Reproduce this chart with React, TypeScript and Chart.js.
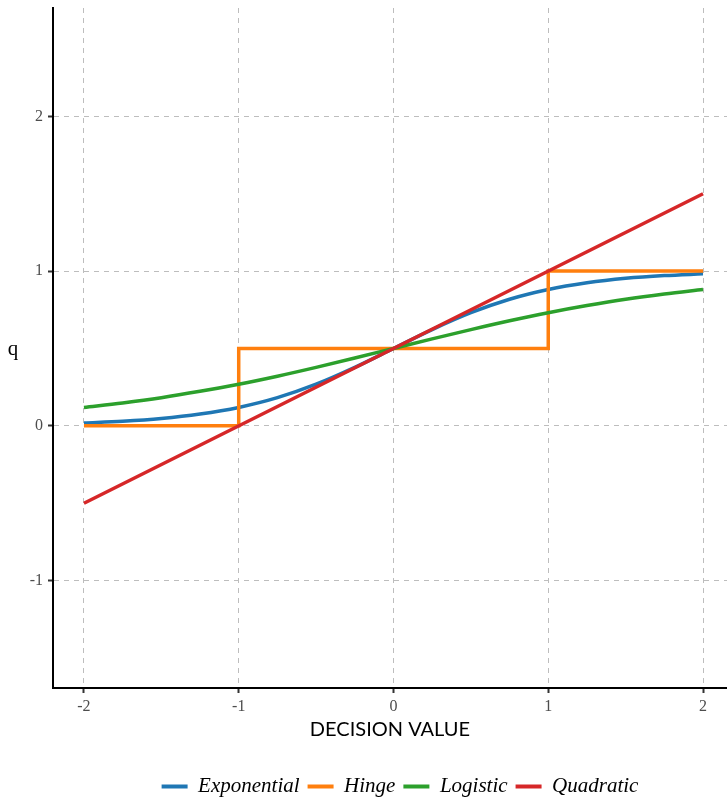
import React, { useEffect, useRef } from "react";
import { Chart, registerables } from "chart.js";

Chart.register(...registerables);

// ---- data ----
const xValues = [-2, -1.75, -1.5, -1.25, -1, -0.75, -0.5, -0.25, 0, 0.25, 0.5, 0.75, 1, 1.25, 1.5, 1.75, 2];
const exponential = [0.018, 0.029, 0.047, 0.076, 0.119, 0.182, 0.269, 0.378, 0.5, 0.622, 0.731, 0.818, 0.881, 0.924, 0.953, 0.971, 0.982];
const logistic = [0.119, 0.148, 0.182, 0.223, 0.269, 0.321, 0.378, 0.438, 0.5, 0.562, 0.622, 0.679, 0.731, 0.777, 0.818, 0.852, 0.881];
const hingeX = [-2, -1, -1, 1, 1, 2];
const hingeY = [0, 0, 0.5, 0.5, 1, 1];
const quadraticX = [-2, 0, 2];
const quadraticY = [-0.5, 0.5, 1.5];

const seriesNames = ["Exponential", "Hinge", "Logistic", "Quadratic"];
const seriesColors = ["#1f77b4", "#ff7f0e", "#2ca02c", "#d62728"];
const xTicks = [-2, -1, 0, 1, 2];
const yTicks = [-1, 0, 1, 2];
const xTitle = "DECISION VALUE";
const yTitle = "q";

const toPoints = (xs: number[], ys: number[]) => xs.map((x, i) => ({ x, y: ys[i] }));

const yTitlePlugin = {
  id: "uprightYTitle",
  afterLayout(chart: any) {
    if (chart.legend) {
      chart.legend.left += 10;
      chart.legend.right += 10;
    }
  },
  afterDraw(chart: any) {
    const ctx = chart.ctx;
    const area = chart.chartArea;
    ctx.save();
    ctx.font = '21px "Liberation Serif"';
    ctx.fillStyle = "#000";
    ctx.textAlign = "center";
    ctx.textBaseline = "alphabetic";
    ctx.fillText(yTitle, 13, (area.top + area.bottom) / 2 + 7);
    ctx.restore();
  },
};

export default function App() {
  const ref = useRef<HTMLCanvasElement | null>(null);

  useEffect(() => {
    if (!ref.current) return;
    const common = {
      borderWidth: 3.5,
      pointRadius: 0,
      pointHoverRadius: 0,
      fill: false,
    };
    const gridOpts = {
      color: "#bdbdbd",
      lineWidth: 1,
      drawTicks: true,
      tickLength: 5,
      tickColor: "#333",
      tickWidth: 2,
      tickBorderDash: [],
    } as any;
    const chart = new Chart(ref.current, {
      type: "line",
      data: {
        datasets: [
          {
            ...common,
            label: seriesNames[0],
            data: toPoints(xValues, exponential),
            borderColor: seriesColors[0],
            backgroundColor: seriesColors[0],
            cubicInterpolationMode: "monotone",
            order: 3,
          },
          {
            ...common,
            label: seriesNames[1],
            data: toPoints(hingeX, hingeY),
            borderColor: seriesColors[1],
            backgroundColor: seriesColors[1],
            tension: 0,
            borderJoinStyle: "miter",
            order: 2,
          },
          {
            ...common,
            label: seriesNames[2],
            data: toPoints(xValues, logistic),
            borderColor: seriesColors[2],
            backgroundColor: seriesColors[2],
            cubicInterpolationMode: "monotone",
            order: 1,
          },
          {
            ...common,
            label: seriesNames[3],
            data: toPoints(quadraticX, quadraticY),
            borderColor: seriesColors[3],
            backgroundColor: seriesColors[3],
            tension: 0,
            order: 0,
          },
        ] as any,
      },
      options: {
        animation: false,
        responsive: false,
        events: [],
        layout: { padding: { top: 8, left: 0, right: 0, bottom: -5 } },
        scales: {
          x: {
            type: "linear",
            min: -2.2,
            max: 2.155,
            afterBuildTicks: (scale: any) => {
              scale.ticks = xTicks.map((v) => ({ value: v }));
            },
            afterFit: (scale: any) => {
              scale.height = 80;
              scale.paddingLeft = 0;
              scale.paddingRight = 0;
            },
            grid: gridOpts,
            border: { color: "#000", width: 2, dash: [5, 5] },
            ticks: {
              color: "#4d4d4d",
              font: { family: '"Liberation Serif"', size: 16 },
              padding: 4,
              maxRotation: 0,
            },
            title: {
              display: true,
              text: xTitle,
              color: "#000",
              font: { family: "Lato", size: 20 },
              padding: { top: 0, bottom: 26 },
            },
          },
          y: {
            type: "linear",
            min: -1.694,
            max: 2.7,
            afterBuildTicks: (scale: any) => {
              scale.ticks = yTicks.map((v) => ({ value: v }));
            },
            afterFit: (scale: any) => {
              scale.width = 53;
              scale.paddingTop = 0;
              scale.paddingBottom = 0;
            },
            grid: gridOpts,
            border: { color: "#000", width: 2, dash: [5, 5] },
            ticks: {
              color: "#4d4d4d",
              font: { family: '"Liberation Serif"', size: 16 },
              padding: 5,
            },
            title: { display: false },
          },
        },
        plugins: {
          tooltip: { enabled: false },
          legend: {
            display: true,
            position: "bottom",
            fullSize: false,
            labels: {
              boxWidth: 26,
              boxHeight: 4,
              padding: 8,
              color: "#000",
              font: { family: '"Liberation Serif"', size: 21, style: "italic" },
              generateLabels: (c: any) =>
                c.data.datasets.map((ds: any, i: number) => ({
                  text: ds.label,
                  fillStyle: ds.borderColor,
                  strokeStyle: ds.borderColor,
                  lineWidth: 0,
                  hidden: false,
                  datasetIndex: i,
                  fontColor: "#000",
                })),
            },
          },
        },
      } as any,
      plugins: [yTitlePlugin],
    });
    return () => chart.destroy();
  }, []);

  return (
    <div style={{ position: "fixed", left: 0, top: 0, width: 727, height: 802, background: "#fff" }}>
      <canvas ref={ref} width={727} height={802} />
    </div>
  );
}
